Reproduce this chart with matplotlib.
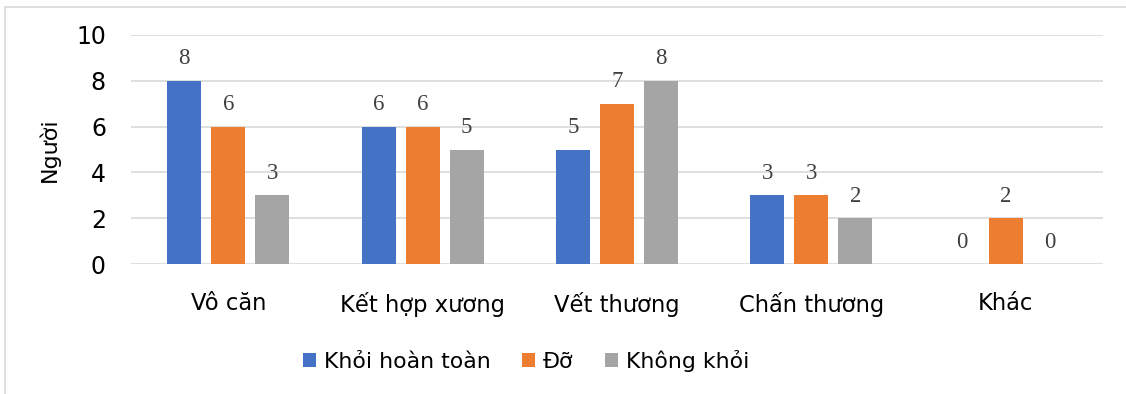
import numpy as np
import matplotlib.pyplot as plt
from matplotlib.patches import Rectangle

# Data
categories = ["Vô căn", "Kết hợp xương", "Vết thương", "Chấn thương", "Khác"]
series_names = ["Khỏi hoàn toàn", "Đỡ", "Không khỏi"]
khoi_hoan_toan = [8, 6, 5, 3, 0]
do = [6, 6, 7, 3, 2]
khong_khoi = [3, 5, 8, 2, 0]
colors = ["#4472C4", "#ED7D31", "#A5A5A5"]

plt.rcParams['font.family'] = ['DejaVu Sans']

fig = plt.figure(figsize=(11.26, 3.94), dpi=100)
ax = fig.add_axes([131 / 1126, 130 / 394, 972 / 1126, 229 / 394])

# outer chart border
fig.patches.append(Rectangle((5 / 1126, -0.05), 1.1, (394 - 7) / 394 + 0.05,
                             transform=fig.transFigure, fill=False,
                             edgecolor="#D9D9D9", linewidth=1.2))

x = np.arange(len(categories))
step = 0.226
width = 0.175

for i, (vals, name) in enumerate(zip([khoi_hoan_toan, do, khong_khoi], series_names)):
    pos = x + (i - 1) * step
    ax.bar(pos, vals, width=width, color=colors[i], label=name, zorder=3)
    for p, v in zip(pos, vals):
        ax.text(p, v + 0.5, str(v), ha='center', va='bottom',
                fontsize=16.5, color="#404040", family='Liberation Serif')

ax.set_xlim(-0.5, 4.5)
ax.set_ylim(0, 10)
ax.set_yticks([0, 2, 4, 6, 8, 10])
ax.yaxis.grid(True, color="#D9D9D9", linewidth=1.2, zorder=0)
ax.set_xticks(x)
ax.set_xticklabels(categories)
ax.tick_params(axis='x', length=0, labelsize=16.3, pad=20)
ax.tick_params(axis='y', length=0, labelsize=17, pad=18)
for s in ax.spines.values():
    s.set_visible(False)

ax.set_ylabel("Người", fontsize=16, labelpad=12)

leg = fig.legend(loc='center left', bbox_to_anchor=(303 / 1126, 1 - 361 / 394), ncol=3,
                 frameon=False, fontsize=15.8, handlelength=0.58, handleheight=0.58,
                 handletextpad=0.36, columnspacing=1.45, borderpad=0, borderaxespad=0)

plt.savefig("out.png", dpi=100)
